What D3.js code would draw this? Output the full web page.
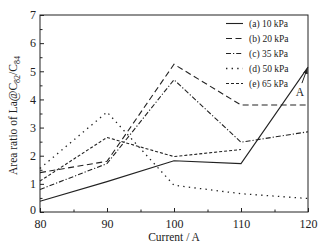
<!DOCTYPE html>
<html><head><meta charset="utf-8">
<script src="https://cdn.jsdelivr.net/npm/d3@7"></script>
<style>body{margin:0;background:#fff}svg{display:block}text{font-family:"Liberation Serif","Times New Roman",serif;fill:#222}</style>
</head><body><svg id="c" width="332" height="248"></svg>
<script>
const currents = [80, 90, 100, 110, 120];
const s10 = [0.38, 1.08, 1.82, 1.72, 5.15];
const s20 = [1.4, 1.8, 5.25, 3.8, 3.8];
const s35 = [0.8, 1.72, 4.7, 2.48, 2.85];
const s50 = [1.55, 3.55, 0.95, 0.65, 0.48];
const s65 = [1.1, 2.65, 1.97, 2.22];
const seriesNames = ["(a) 10 kPa", "(b) 20 kPa", "(c) 35 kPa", "(d) 50 kPa", "(e) 65 kPa"];
const xTicks = [80, 90, 100, 110, 120];
const yTicks = [0, 1, 2, 3, 4, 5, 6, 7];

const series = [s10, s20, s35, s50, s65];
const dashes = ["none", "6,3.5", "5,2,1.2,2", "1.4,4.2", "3,2"];

const svg = d3.select("#c");
const L = 40, R = 308, T = 15, B = 212;
const x = d3.scaleLinear().domain([80, 120]).range([L, R]);
const y = d3.scaleLinear().domain([0, 7]).range([B, T]);
const ink = "#222";

svg.append("rect").attr("x", L).attr("y", T).attr("width", R - L).attr("height", B - T)
  .attr("fill", "none").attr("stroke", ink).attr("stroke-width", 1);

const xa = svg.append("g").attr("transform", `translate(0,${B})`)
  .call(d3.axisBottom(x).tickValues(xTicks).tickSize(-4).tickPadding(7).tickFormat(d3.format("d")));
xa.select(".domain").remove();
xa.selectAll("text").attr("font-size", 12).attr("fill", ink).style("font-family", "Liberation Serif");
xa.selectAll("line").attr("stroke", ink);
const xm = svg.append("g").attr("transform", `translate(0,${B})`)
  .call(d3.axisBottom(x).tickValues([85, 95, 105, 115]).tickSize(-2.5).tickFormat(""));
xm.select(".domain").remove(); xm.selectAll("line").attr("stroke", ink);

const ya = svg.append("g").attr("transform", `translate(${L},0)`)
  .call(d3.axisLeft(y).tickValues(yTicks).tickSize(-4).tickPadding(4).tickFormat(d3.format("d")));
ya.select(".domain").remove();
ya.selectAll("text").attr("font-size", 12).attr("fill", ink).style("font-family", "Liberation Serif");
ya.selectAll("line").attr("stroke", ink);
ya.selectAll(".tick").filter(d => d === 0).select("text").attr("dy", "0.1em");
const ym = svg.append("g").attr("transform", `translate(${L},0)`)
  .call(d3.axisLeft(y).tickValues(d3.range(0.5, 7, 1)).tickSize(-2.5).tickFormat(""));
ym.select(".domain").remove(); ym.selectAll("line").attr("stroke", ink);

svg.append("text").attr("x", (L + R) / 2).attr("y", 241).attr("text-anchor", "middle")
  .attr("font-size", 11.5).text("Current / A");
const yl = svg.append("text").attr("transform", `translate(17,${(T + B) / 2 + 2}) rotate(-90)`)
  .attr("text-anchor", "middle").attr("font-size", 11.5);
yl.append("tspan").text("Area ratio of La@C");
yl.append("tspan").attr("font-size", 8).attr("dy", 3).text("82");
yl.append("tspan").attr("dy", -3).text("/C");
yl.append("tspan").attr("font-size", 8).attr("dy", 3).text("84");

const line = d3.line().x((d, i) => x(currents[i])).y(d => y(d));
series.forEach((s, i) => {
  svg.append("path").datum(s).attr("d", line).attr("fill", "none")
    .attr("stroke", ink).attr("stroke-width", i === 3 ? 1.3 : 1.1).attr("stroke-dasharray", dashes[i]);
});

seriesNames.forEach((n, i) => {
  const yy = 23.5 + i * 15;
  svg.append("line").attr("x1", 226).attr("x2", 243).attr("y1", yy).attr("y2", yy)
    .attr("stroke", ink).attr("stroke-width", i === 3 ? 1.3 : 1.1).attr("stroke-dasharray", dashes[i]);
  svg.append("text").attr("x", 249).attr("y", yy + 3.5).attr("font-size", 9.5).text(n);
});

svg.append("defs").append("marker").attr("id", "ah").attr("viewBox", "0 0 10 10")
  .attr("refX", 9).attr("refY", 5).attr("markerWidth", 6).attr("markerHeight", 6).attr("orient", "auto")
  .append("path").attr("d", "M0,1 L10,5 L0,9 Z").attr("fill", ink);
svg.append("line").attr("x1", x(119.1)).attr("y1", y(4.58)).attr("x2", x(119.9)).attr("y2", y(5.1))
  .attr("stroke", ink).attr("stroke-width", 1).attr("marker-end", "url(#ah)");
svg.append("text").attr("x", x(118.8)).attr("y", y(4.13)).attr("text-anchor", "middle")
  .attr("font-size", 11.5).text("A");
</script></body></html>
